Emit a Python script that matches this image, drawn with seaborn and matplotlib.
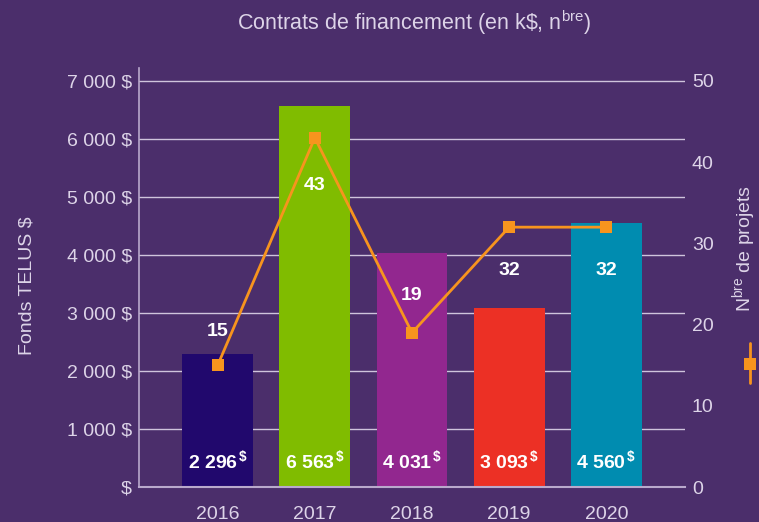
import matplotlib
matplotlib.use("Agg")
import matplotlib.pyplot as plt
from matplotlib.lines import Line2D
import seaborn as sns
import pandas as pd
import numpy as np

# ---- data ----
years = ["2016", "2017", "2018", "2019", "2020"]
funds = [2296, 6563, 4031, 3093, 4560]          # k$
fund_labels = ["2 296", "6 563", "4 031", "3 093", "4 560"]
projects = [15, 43, 19, 32, 32]
left_ticks = [0, 1000, 2000, 3000, 4000, 5000, 6000, 7000]
left_tick_labels = ["$", "1 000 $", "2 000 $", "3 000 $", "4 000 $",
                    "5 000 $", "6 000 $", "7 000 $"]
right_ticks = [0, 10, 20, 30, 40, 50]

# ---- style ----
BG = "#4B2E6B"
bar_colors = ["#21086D", "#80BC00", "#92278F", "#EC3025", "#008CB0"]
ORANGE = "#F7941E"
TXT = "#DDD4E8"
GRID = "#CFC4DC"
SPINE = "#B9A9CC"
label_offsets = [24.5, -34, 26.6, -31, -31]   # points, line value labels

sns.set_theme(style="white")
plt.rcParams["font.family"] = ["Liberation Sans", "DejaVu Sans"]
plt.rcParams["mathtext.fontset"] = "custom"
plt.rcParams["mathtext.rm"] = "Liberation Sans"
plt.rcParams["mathtext.bf"] = "Liberation Sans:bold"
plt.rcParams["mathtext.it"] = "Liberation Sans:italic"

fig = plt.figure(figsize=(7.59, 5.22), dpi=100, facecolor=BG)
ax = fig.add_axes([139 / 759, 35 / 522, 546 / 759, 419 / 522])
ax.set_facecolor(BG)

df = pd.DataFrame({"year": years, "funds": funds, "projects": projects})
sns.barplot(data=df, x="year", y="funds", hue="year", palette=bar_colors,
            width=0.73, saturation=1, legend=False, ax=ax, zorder=2,
            linewidth=0, edgecolor="none")

ax.set_xlim(-0.81, 4.81)
ax.set_ylim(0, 7224)
ax.set_yticks(left_ticks)
ax.set_yticklabels(left_tick_labels)
ax.yaxis.grid(True, color=GRID, lw=1)
ax.xaxis.grid(False)
ax.set_axisbelow(True)
for s in ["top", "right"]:
    ax.spines[s].set_visible(False)
ax.spines["left"].set_color(SPINE)
ax.spines["bottom"].set_color(SPINE)
ax.spines["left"].set_linewidth(1.2)
ax.spines["bottom"].set_linewidth(1.5)
ax.tick_params(axis="y", length=0, pad=5, labelsize=14, labelcolor=TXT)
ax.tick_params(axis="x", length=0, pad=14, labelsize=14, labelcolor=TXT)
ax.set_xlabel("")
ax.set_ylabel("")

for i, lab in enumerate(fund_labels):
    ax.annotate(lab + r"$^{\,\mathbf{\$}}$", (i, 0), xytext=(0, 19.5),
                textcoords="offset points", ha="center", va="center",
                color="white", fontweight="bold", fontsize=14, zorder=5)

ax2 = ax.twinx()
sns.lineplot(x=df.index, y=df["projects"], ax=ax2, color=ORANGE, lw=2,
             marker="s", markersize=8, markeredgewidth=0, zorder=4)
ax2.set_ylim(0, 51.6)
ax2.set_yticks(right_ticks)
ax2.set_xlim(-0.81, 4.81)
ax2.grid(False)
for s in ax2.spines.values():
    s.set_visible(False)
ax2.tick_params(axis="y", length=0, pad=5, labelsize=14, labelcolor=TXT)
ax2.set_ylabel("")
ax2.set_xlabel("")

for i, v in enumerate(projects):
    ax2.annotate(str(v), (i, v), xytext=(0, label_offsets[i]),
                 textcoords="offset points", ha="center", va="center",
                 color="white", fontweight="bold", fontsize=14, zorder=5)

fig.text(414 / 759, 1 - 23 / 522,
         r"Contrats de financement (en k\$, n$^{\mathrm{bre}}$)",
         ha="center", va="center", color=TXT, fontsize=15.5)
fig.text(27 / 759, 1 - 286 / 522, "Fonds TELUS $", rotation=90,
         ha="center", va="center", color=TXT, fontsize=14)
fig.text(758 / 759, 1 - 312 / 522, r"N$^{\mathrm{bre}}$ de projets",
         rotation=90, ha="right", va="bottom", color=TXT, fontsize=14)

fig.add_artist(Line2D([750 / 759, 750 / 759], [1 - 343 / 522, 1 - 383 / 522],
                      color=ORANGE, lw=2, transform=fig.transFigure))
fig.add_artist(Line2D([750 / 759], [1 - 364 / 522], marker="s", ms=8,
                      mew=0, color=ORANGE, transform=fig.transFigure))

fig.savefig("out.png", dpi=100, facecolor=BG)
